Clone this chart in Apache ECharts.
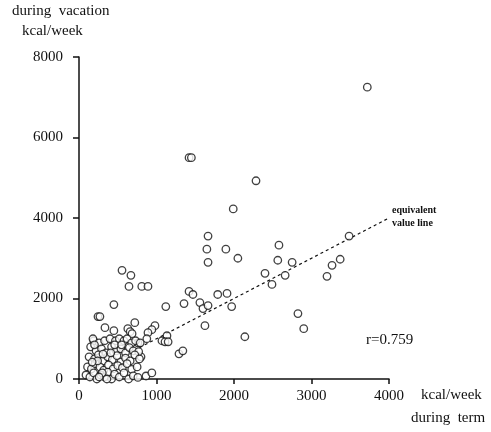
<!DOCTYPE html>
<html>
<head>
<meta charset="utf-8">
<script src="https://cdn.jsdelivr.net/npm/echarts@6/dist/echarts.min.js"></script>
<style>
  html, body { margin: 0; padding: 0; background: #fff; }
  #chart { width: 491px; height: 432px; }
</style>
</head>
<body>
<div id="chart"></div>
<script>
// energy expenditure, kcal/week: during term (x) vs during vacation (y)
const termKcal = [
  3720, 1420, 1450, 2284, 1990, 1665, 1650, 1895, 1665, 2050,
  2580, 2565, 2750, 2400, 2490, 2660, 3200, 3265, 3370, 3485,
  1790, 1910, 1970, 1560, 1600, 1665, 1625, 2140, 2825, 2900,
  810, 890, 1120, 1420, 1470, 1355, 980, 940, 890, 875,
  1135, 1070, 1110, 1150, 1290, 1340, 800, 865, 940,
  555, 670, 645, 450, 245, 270, 335, 450, 630, 660,
  685, 720, 760, 190,
  // dense cluster
  180, 260, 330, 400, 470, 520, 580, 620, 680, 730, 790,
  150, 220, 290, 350, 420, 480, 540, 600, 650, 700, 770,
  130, 200, 250, 310, 370, 430, 490, 540, 600, 660, 720, 780,
  110, 160, 210, 270, 320, 380, 440, 500, 560, 620, 680, 750,
  90, 140, 190, 230, 280, 330, 370, 420, 460, 520, 580, 640, 700, 760,
  240, 300, 360, 410, 460, 310, 200, 550, 260, 170
];
const vacationKcal = [
  7250, 5500, 5500, 4925, 4225, 3550, 3225, 3225, 2900, 3000,
  3325, 2950, 2900, 2625, 2350, 2575, 2550, 2825, 2975, 3550,
  2100, 2125, 1800, 1900, 1750, 1825, 1325, 1050, 1625, 1250,
  2300, 2300, 1800, 2175, 2100, 1875, 1325, 1225, 1150, 1000,
  1075, 950, 925, 925, 625, 700, 550, 75, 150,
  2700, 2575, 2300, 1850, 1550, 1550, 1275, 1200, 1250, 1175,
  1125, 1400, 900, 950,
  // dense cluster
  1000, 900, 950, 1000, 950, 1000, 950, 1000, 900, 950, 900,
  800, 700, 750, 650, 800, 700, 750, 650, 780, 700, 680,
  550, 500, 600, 450, 550, 480, 580, 420, 520, 450, 600, 500,
  300, 250, 380, 300, 220, 350, 250, 330, 280, 380, 240, 300,
  100, 50, 150, 0, 100, 50, 170, 0, 120, 50, 150, 0, 80, 40,
  450, 150, 0, 650, 850, 620, 850, 850, 50, 420
];
// equivalent value line (x = y)
const lineEnds = [780, 3975];
const rValue = 'r=0.759';

const points = termKcal.map((t, i) => [t, vacationKcal[i]]);
const serif = '"Liberation Serif", "DejaVu Serif", serif';
const plain = v => String(v);

const chart = echarts.init(document.getElementById('chart'));
chart.setOption({
  animation: false,
  backgroundColor: '#fff',
  grid: { left: 79, top: 57, width: 310, height: 322 },
  xAxis: {
    type: 'value', min: 0, max: 4000, interval: 1000,
    splitLine: { show: false },
    axisLine: { lineStyle: { color: '#111', width: 1.5 } },
    axisTick: { length: 5, lineStyle: { color: '#111', width: 1.5 } },
    axisLabel: { color: '#111', fontFamily: serif, fontSize: 15, margin: 10, formatter: plain }
  },
  yAxis: {
    type: 'value', min: 0, max: 8000, interval: 2000,
    splitLine: { show: false },
    axisLine: { show: true, lineStyle: { color: '#111', width: 1.5 } },
    axisTick: { show: true, length: 6, lineStyle: { color: '#111', width: 1.5 } },
    axisLabel: { color: '#111', fontFamily: serif, fontSize: 15, margin: 16, formatter: plain }
  },
  series: [
    {
      type: 'line',
      data: lineEnds.map(v => [v, v]),
      symbol: 'none',
      silent: true,
      lineStyle: { color: '#111', width: 1.2, type: [3, 3] },
      z: 1
    },
    {
      type: 'scatter',
      data: points,
      symbol: 'circle',
      symbolSize: 7.5,
      itemStyle: { color: '#fff', borderColor: '#111', borderWidth: 1.3 },
      z: 2
    }
  ],
  graphic: [
    { type: 'text', left: 12, top: 4, style: { text: 'during  vacation', font: '15px ' + serif, fill: '#111' } },
    { type: 'text', left: 22, top: 24, style: { text: 'kcal/week', font: '15px ' + serif, fill: '#111' } },
    { type: 'text', left: 421, top: 388, style: { text: 'kcal/week', font: '15px ' + serif, fill: '#111' } },
    { type: 'text', left: 411, top: 411, style: { text: 'during  term', font: '15px ' + serif, fill: '#111' } },
    { type: 'text', left: 366, top: 333, style: { text: rValue, font: '15px ' + serif, fill: '#111' } },
    { type: 'text', left: 392, top: 205, style: { text: 'equivalent', font: 'bold 10px ' + serif, fill: '#111' } },
    { type: 'text', left: 392, top: 218, style: { text: 'value line', font: 'bold 10px ' + serif, fill: '#111' } }
  ]
});
</script>
</body>
</html>
